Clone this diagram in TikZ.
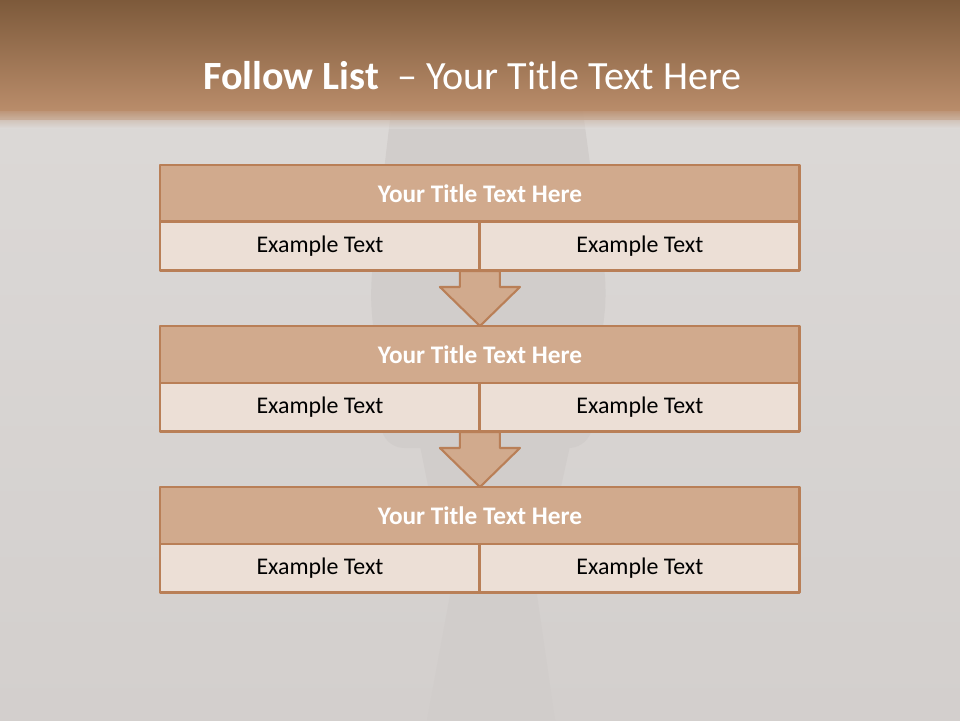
\documentclass[tikz,border=0pt]{standalone}
\usepackage{fontspec}
\setmainfont{Carlito}
\usetikzlibrary{positioning,calc}
\definecolor{barTop}{HTML}{7D5A3B}
\definecolor{barBot}{HTML}{B98C6A}
\definecolor{bgLight}{HTML}{DDDAD8}
\definecolor{bgDark}{HTML}{D3CFCD}
\definecolor{ghost}{HTML}{D1CDCB}
\definecolor{boxLine}{HTML}{B97F57}
\definecolor{boxHead}{HTML}{D1AA8D}
\definecolor{boxCell}{HTML}{ECDFD6}
\begin{document}
\begin{tikzpicture}[x=0.02cm, y=-0.02cm, line join=round,
	head/.style={draw=boxLine, fill=boxHead, line width=1.7pt, outer sep=0pt, minimum width=12.8cm, minimum height=1.14cm, inner sep=0pt, text=white, font=\fontsize{14.4}{17}\selectfont\bfseries},
	cell/.style={draw=boxLine, fill=boxCell, line width=1.7pt, outer sep=0pt, minimum width=6.4cm, minimum height=0.98cm, inner sep=0pt, font=\fontsize{13.6}{16}\selectfont},
	flow/.style={draw=boxLine, fill=boxHead, line width=1.2pt}]
	% background and faint figure
	\shade[top color=bgLight, bottom color=bgDark] (0,0) rectangle (960,720);
	\fill[ghost, rounded corners=12] (397,60) -- (370,290) -- (383,448) -- (590,448) -- (607,290) -- (576,60) -- cycle;
	\fill[ghost] (420,446) -- (450,595) -- (427,720) -- (555,720) -- (537,595) -- (570,446) -- cycle;
	% title bar
	\shade[top color=barTop, bottom color=barBot] (0,0) rectangle (960,110);
	\shade[top color=barBot, bottom color=barBot!60!bgLight, opacity=0.9] (0,110) rectangle (960,119);
	\shade[top color=barBot!60!bgLight, bottom color=bgLight, opacity=0.5] (0,119) rectangle (960,128);
	\node[anchor=west, inner sep=0pt, text=white, font=\fontsize{22.8}{27}\selectfont] (title) at (203,76) {\textbf{Follow List}\ \ – Your Title Text Here};
	% blocks
	\foreach \i/\y in {1/165,2/326,3/487}{
		\node[head, anchor=north west] (head\i) at (160,\y) {Your Title Text Here};
		\node[cell, anchor=north west] (left\i) at (head\i.south west) {Example Text};
		\node[cell, anchor=north east] (right\i) at (head\i.south east) {Example Text};
	}
	% arrows
	\foreach \i/\j in {1/2,2/3}{
		\filldraw[flow] ($(left\i.south east)+(-20,0)$) -- ++(0,16) -- ++(-20,0) -- (head\j.north) -- ($(left\i.south east)+(40,16)$) -- ++(-20,0) -- ++(0,-16) -- cycle;
	}
\end{tikzpicture}
\end{document}
